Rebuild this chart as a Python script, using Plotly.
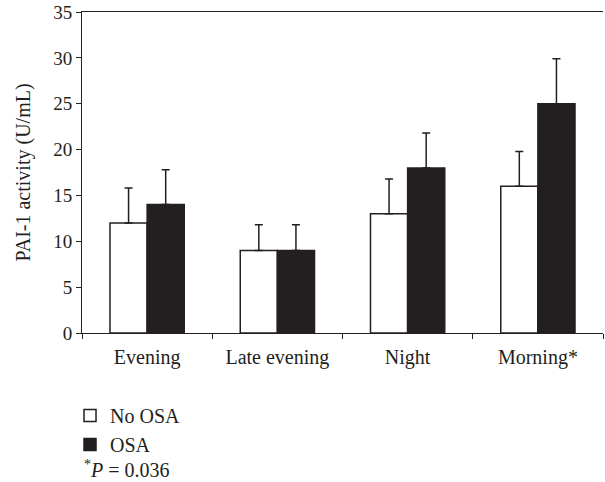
import plotly.graph_objects as go

categories = ["Evening", "Late evening", "Night", "Morning*"]
no_osa = [12, 9, 13, 16]
no_osa_err = [3.8, 2.8, 3.8, 3.8]
osa = [14, 9, 18, 25]
osa_err = [3.8, 2.8, 3.8, 4.9]
y_ticks = [0, 5, 10, 15, 20, 25, 30, 35]

INK = "#231f20"
FONT = "Liberation Serif"
FS = 20

fig = go.Figure()
fig.add_trace(go.Bar(
    name="No OSA", x=categories, y=no_osa, legendgroup="a",
    marker=dict(color="white", line=dict(color=INK, width=1.5)),
    error_y=dict(type="data", symmetric=False, array=no_osa_err,
                 arrayminus=[0] * len(no_osa), color=INK, thickness=1.5, width=4),
))
fig.add_trace(go.Bar(
    name="OSA", x=categories, y=osa, legendgroup="b",
    marker=dict(color=INK, line=dict(color=INK, width=1.5)),
    error_y=dict(type="data", symmetric=False, array=osa_err,
                 arrayminus=[0] * len(osa), color=INK, thickness=1.5, width=4),
))

fig.update_layout(
    width=605, height=482,
    margin=dict(l=82, r=2, t=12, b=149, autoexpand=False),
    paper_bgcolor="white", plot_bgcolor="white",
    barmode="group", bargap=0.43, bargroupgap=0,
    font=dict(family=FONT, size=FS, color=INK),
    showlegend=True,
    legend=dict(x=-0.023, xanchor="left", y=-0.196, yanchor="top",
                orientation="v", font=dict(family=FONT, size=FS, color=INK),
                itemwidth=30, traceorder="grouped", tracegroupgap=0,
                bgcolor="rgba(0,0,0,0)"),
    annotations=[dict(
        text="<sup>*</sup><i>P</i> = 0.036", xref="paper", yref="paper",
        x=0.0, y=-0.424, xanchor="left", yanchor="middle", showarrow=False,
        font=dict(family=FONT, size=FS, color=INK),
    )],
)
fig.update_xaxes(
    type="category", showline=True, linecolor=INK, linewidth=1, mirror=True,
    ticks="outside", tickson="boundaries", ticklen=5, tickcolor=INK,
    showgrid=False, tickfont=dict(family=FONT, size=FS, color=INK),
    ticklabelstandoff=6, automargin=False,
)
fig.update_yaxes(
    range=[0, 35], tickvals=y_ticks, showline=True, linecolor=INK, linewidth=1,
    ticks="outside", ticklen=5, tickcolor=INK, showgrid=False, zeroline=False,
    tickfont=dict(family=FONT, size=19, color=INK), automargin=False,
    title=dict(text="PAI-1 activity (U/mL)", font=dict(family=FONT, size=FS, color=INK), standoff=17),
)

fig.write_html(
    "out.html",
    config={"displayModeBar": False},
    post_script="document.body.style.margin='0';document.body.style.overflow='hidden';",
)
